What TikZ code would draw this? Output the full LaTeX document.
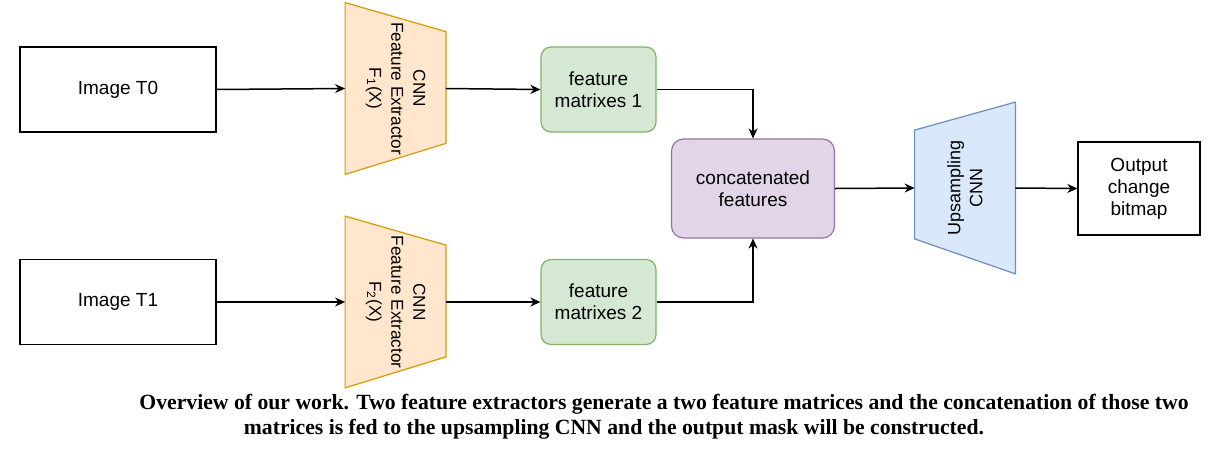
\documentclass[tikz,border=0pt]{standalone}
\usepackage{fontspec}
\setmainfont{Liberation Serif}
\setsansfont{Liberation Sans}
\usetikzlibrary{arrows.meta,calc}
\definecolor{cnnfill}{HTML}{FFE6CC}
\definecolor{cnnline}{HTML}{D79B00}
\definecolor{featfill}{HTML}{D5E8D4}
\definecolor{featline}{HTML}{82B366}
\definecolor{catfill}{HTML}{E1D5E7}
\definecolor{catline}{HTML}{9673A6}
\definecolor{upfill}{HTML}{DAE8FC}
\definecolor{upline}{HTML}{6C8EBF}
\tikzset{
  flowarrow/.style={-{Stealth[length=5pt,width=4.5pt]}, line width=0.75pt},
  boxtext/.style={font=\sffamily\fontsize{9.5}{11}\selectfont, align=center},
  traptext/.style={font=\sffamily\fontsize{8.6}{11}\selectfont, align=center},
  imgbox/.style={boxtext, draw, line width=0.7pt, minimum width=98pt, minimum height=42.5pt},
  featbox/.style={boxtext, draw=featline, fill=featfill, line width=0.6pt, rounded corners=5pt, minimum width=57.5pt, minimum height=42.5pt},
  catbox/.style={boxtext, draw=catline, fill=catfill, line width=0.6pt, rounded corners=6pt, minimum width=81.5pt, minimum height=49.5pt},
  trapbox/.style={inner sep=0pt, minimum width=50pt, minimum height=85.5pt},
  captext/.style={font=\bfseries\fontsize{10.85}{13}\selectfont, inner sep=0pt}
}

\begin{document}
\begin{tikzpicture}[x=0.5pt, y=-0.5pt]
    \useasboundingbox (0,0) rectangle (1220,450);
    % inputs
    \node[imgbox] (img0) at (118,89.5) {Image T0};
    \node[imgbox] (img1) at (118,302) {Image T1};
    % feature extractors
    \node[trapbox] (cnn1) at (395.5,88.5) {};
    \node[trapbox] (cnn2) at (395.5,302) {};
    \foreach \t in {cnn1,cnn2} {
      \filldraw[fill=cnnfill, draw=cnnline, line width=0.6pt]
        (\t.north west) -- ($(\t.north east)+(0,29)$) -- ($(\t.south east)+(0,-31)$)
        -- (\t.south west) -- cycle;
    }
    \node[traptext, rotate=-90] (cnn1txt) at (cnn1.center) {CNN\\Feature Extractor\\F\textsubscript{1}(X)};
    \node[traptext, rotate=-90] (cnn2txt) at (cnn2.center) {CNN\\Feature Extractor\\F\textsubscript{2}(X)};
    % features
    \node[featbox] (fm1) at (598.5,89.5) {feature\\matrixes 1};
    \node[featbox] (fm2) at (598.5,302) {feature\\matrixes 2};
    \node[catbox] (cat) at (753,188.5) {concatenated\\features};
    % upsampling
    \node[trapbox] (up) at (965,188) {};
    \filldraw[fill=upfill, draw=upline, line width=0.6pt]
      ($(up.north west)+(0,28)$) -- (up.north east) -- (up.south east)
      -- ($(up.south west)+(0,-35)$) -- cycle;
    \node[traptext, font=\sffamily\fontsize{9}{11}\selectfont, rotate=90] (uptxt) at (up.center) {Upsampling\\CNN};
    \node[imgbox, minimum width=61pt, minimum height=46.5pt] (out) at (1139,188.5) {Output\\change\\bitmap};
    % connectors
    \draw[flowarrow] (img0.east) -- (cnn1.west);
    \draw[flowarrow] (img1.east) -- (cnn2.west);
    \draw[flowarrow] (cnn1.east) -- (fm1.west);
    \draw[flowarrow] (cnn2.east) -- (fm2.west);
    \draw[flowarrow] (fm1.east) -| (cat.north);
    \draw[flowarrow] (fm2.east) -| (cat.south);
    \draw[flowarrow] (cat.east) -- (up.west);
    \draw[flowarrow] (up.east) -- (out.west);
    % caption
    \node[captext] (cap1) at (664,404) {Overview of our work. Two feature extractors generate a two feature matrices and the concatenation of those two};
    \node[captext] (cap2) at (614,429) {matrices is fed to the upsampling CNN and the output mask will be constructed.};
\end{tikzpicture}
\end{document}
